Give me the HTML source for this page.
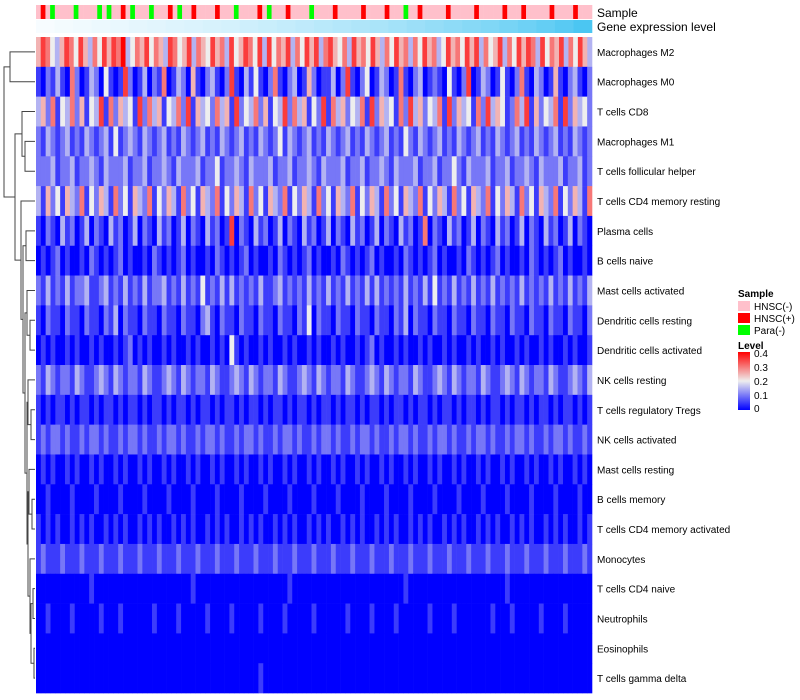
<!DOCTYPE html>
<html><head><meta charset="utf-8"><style>
body{margin:0;background:#fff;}
svg{display:block;font-family:"Liberation Sans",sans-serif;}
</style></head><body>
<svg id="chart" width="800" height="700" xmlns="http://www.w3.org/2000/svg">
<defs>
<linearGradient id="lev" x1="0" x2="0" y1="1" y2="0"><stop offset="0" stop-color="#0000ff"/><stop offset="0.5" stop-color="#eeeeee"/><stop offset="1" stop-color="#ff0000"/></linearGradient>
</defs>
<g id="annot"></g><g id="cells"></g><g id="labels"></g><g id="dendro"></g>
<g font-size="10">
<text x="738" y="297" font-weight="bold">Sample</text>
<rect x="738" y="301" width="12" height="10" fill="#ffc0cb"/>
<text x="754" y="310">HNSC(-)</text>
<rect x="738" y="313" width="12" height="10" fill="#ff0000"/>
<text x="754" y="322">HNSC(+)</text>
<rect x="738" y="325" width="12" height="10" fill="#00ff00"/>
<text x="754" y="334">Para(-)</text>
<text x="738" y="349" font-weight="bold">Level</text>
<rect x="738" y="352" width="12" height="58" fill="url(#lev)"/>
<text x="754" y="357">0.4</text>
<text x="754" y="371">0.3</text>
<text x="754" y="385">0.2</text>
<text x="754" y="399">0.1</text>
<text x="754" y="412">0</text>
</g>
</svg>
<script>
const rowNames=["Macrophages M2","Macrophages M0","T cells CD8","Macrophages M1","T cells follicular helper","T cells CD4 memory resting","Plasma cells","B cells naive","Mast cells activated","Dendritic cells resting","Dendritic cells activated","NK cells resting","T cells regulatory  Tregs","NK cells activated","Mast cells resting","B cells memory","T cells CD4 memory activated","Monocytes","T cells CD4 naive","Neutrophils","Eosinophils","T cells gamma delta"];
const rowData=[
"5764357647536475768346574653764573654756374576473746573647573675463756475364756364756347564757364573647576374657364753",
"1021310620132041017201302160132051023102710314102610230152011302710240132016102301210410270132014102610320151023102",
"3526143625143716253417263514362715342635172436251437263514271635243617253416273524361725341627354126371524361725342",
"2132123121321231412321321231213212312132123121321241321231213212312132123121421321231213212312132123121321231213212",
"2223122312232132223122312232132223122412232132223122312232132223122312232132223122312242132223122312232132223122312",
"3152415326142531624153261425316241532614253162415326142531624153261425316241532614253162415326142531624153261425316",
"1021031201302103120130210312013021031201702103120130210312013021031201302103120160210312013021031201302103120130210",
"0101201001021010120100102101012010010210101201001021010120100102101012010010210101201001021010120100102101012010010",
"2131213122311231213121312231213121412131312121311231212131213121312131312121312131412131213121312121312121312131213",
"1021102110211021302110211021102110231021102110211021102140211021102110211021302110211021102110211021102110211021102",
"0101001010010100101201010010100101001010410100101001010010100101001012010010100101001010010100101001010010100101001",
"2132122132112321321221321123213212213211232132122132112321321221321123213212213211232132122132112321321221321123213",
"1010110101101011010110101101011010110101101011010110101101011010110101101011010110101101011010110101101011010110101",
"1212212112122121121221211212212112122121121221211212212112122121121221211212212112122121121221211212212112122121121",
"0101001010010100101001010010100101001010010100101001010010100101001010010100101001010010100101001010010100101001010",
"0010000100001000010000100001000010000100001000010000100001000010000100001000010000100001000010000100001000010000100",
"1010100101010010101001010100101010010101001010100101010010101001010100101010010101001010100101010010101001010100101",
"1211121112111211121112111211121112111211121112111211121112111211121112111211121112111211121112111211121112111211121",
"0000000000010000000000000000000010000000000000000000100000000000000000000000100000000000000000000100000000000000000",
"0010000100000100010000001000010000010000100000100001000001000000100001000010000001000010000000100010000010000100000",
"0000000000000000000000000000000000000000000000000000000000000000000000000000000000000000000000000000000000000000000",
"0000000000000000000000000000000000000000000000100000000000000000000000000000000000000000000000000000000000000000000"];
const sampleCodes="npngnnnngnnnngngnnpngnnngnnnpngnnpnnnnpnnngnnnnpngnnnpnnnngnnnnpnnnnnpnnnnpnnngnnpnnnnnpnnnnnpnnnnnpnnnpnnnnnpnnnnpnnn";
const sampleColors={n:"#ffc0cb",p:"#ff0000",g:"#00ff00"};
const exprLevels=[0.02,0.04,0.06,0.08,0.1,0.12,0.14,0.16,0.18,0.2,0.22,0.25,0.28,0.31,0.34,0.37,0.4,0.43,0.46,0.5,0.54,0.58,0.62,0.66,0.7,0.75,0.8,0.86,0.92,1.0];
const NS="http://www.w3.org/2000/svg";
const X0=36,X1=592,Y0=37,RH=29.82;
function xScale(i,n){return X0+(X1-X0)*i/n;}
function yScale(r){return Y0+RH*r;}
function color(v){
  const t=Math.max(0,Math.min(1,v/0.4));
  let r,g,b;
  if(t<0.5){const k=t/0.5;r=238*k;g=238*k;b=255-17*k;}
  else{const k=(t-0.5)/0.5;r=238+17*k;g=238*(1-k);b=238*(1-k);}
  return "rgb("+Math.round(r)+","+Math.round(g)+","+Math.round(b)+")";
}
function exprColor(v){
  const r=250+(75-250)*v,g=253+(198-253)*v,b=255+(242-255)*v;
  return "rgb("+Math.round(r)+","+Math.round(g)+","+Math.round(b)+")";
}
function mk(tag,attrs,parent){const e=document.createElementNS(NS,tag);for(const k in attrs)e.setAttribute(k,attrs[k]);parent.appendChild(e);return e;}
const cells=document.getElementById('cells');
rowData.forEach(function(s,r){
  const n=s.length;
  for(let i=0;i<n;i++){
    const v=parseInt(s[i],10)*0.05;
    const x=xScale(i,n),w=xScale(i+1,n)-x;
    const el=mk('rect',{x:x,y:yScale(r),width:w+0.3,height:RH+0.3,fill:color(v)},cells);
    
    
  }
});
const annot=document.getElementById('annot');
for(let i=0;i<sampleCodes.length;i++){
  const n=sampleCodes.length,x=xScale(i,n),w=xScale(i+1,n)-x;
  const el=mk('rect',{x:x,y:5,width:w+0.3,height:14,fill:sampleColors[sampleCodes[i]]},annot);
  
  
}
for(let i=0;i<exprLevels.length;i++){
  const n=exprLevels.length,x=xScale(i,n),w=xScale(i+1,n)-x;
  const el=mk('rect',{x:x,y:20,width:w+0.3,height:13,fill:exprColor(exprLevels[i])},annot);
  
  
}
const labels=document.getElementById('labels');
let t=mk('text',{x:597,y:17,'font-size':12},labels);
t.textContent="Sample";


t=mk('text',{x:597,y:31,'font-size':12},labels);
t.textContent="Gene expression level";


rowNames.forEach(function(nm,r){
  const el=mk('text',{x:597,y:yScale(r)+RH/2+4,'font-size':10,'xml:space':'preserve'},labels);
  el.textContent=nm;
  
  
});
const n1718=[17,[[18,19,33],[20,21,34],31],30];
const n14=[[14,[15,16,32],29],n1718,28];
const n11=[[11,[12,13,31],28],n14,27];
const n8=[[8,[9,10,30],27],n11,25];
const n6=[[6,7,26],n8,23];
const n5=[5,n6,21];
const nX=[[2,[3,4,25],22],n5,15];
const tree=[[0,1,10],nX,4];
const dg=document.getElementById('dendro');
function draw(node){
  if(typeof node==='number')return {y:yScale(node)+RH/2,x:35};
  const a=draw(node[0]),b=draw(node[1]),h=node[2];
  const p=mk('path',{d:"M"+a.x+","+a.y+"H"+h+"V"+b.y+"H"+b.x,fill:'none',stroke:'#444','stroke-width':1},dg);
  
  
  return {y:(a.y+b.y)/2,x:h};
}
draw(tree);
</script>
</body></html>
